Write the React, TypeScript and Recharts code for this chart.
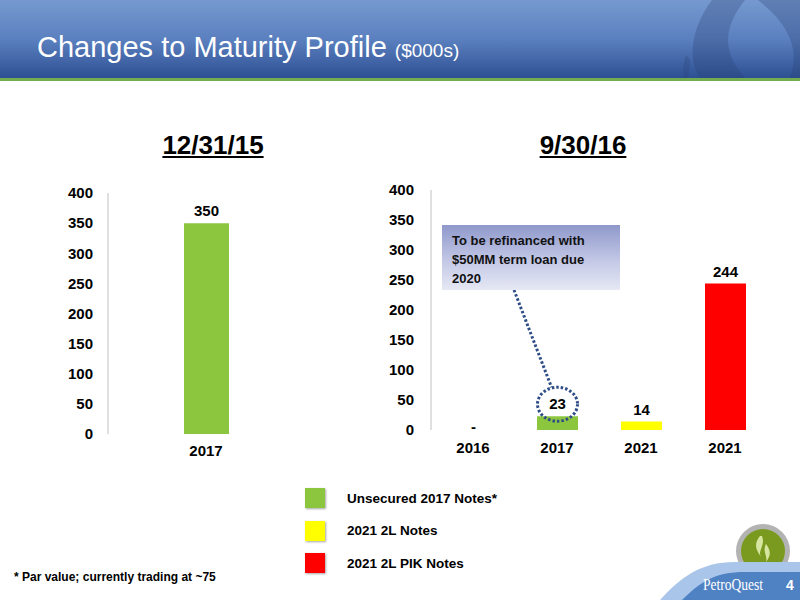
import React from 'react';
import { BarChart, Bar, XAxis, YAxis, Cell, LabelList } from 'recharts';

// 데이터
const leftCategories = ['2017'];
const leftValues = [350];
const leftColors = ['#8CC63E'];

const rightCategories = ['2016', '2017', '2021', '2021'];
const rightValues = [0, 23, 14, 244];
const rightColors = ['#8CC63E', '#8CC63E', '#FFFF00', '#FF0000'];

const yTicks = [0, 50, 100, 150, 200, 250, 300, 350, 400];

const legendLabels = ['Unsecured 2017 Notes*', '2021 2L Notes', '2021 2L PIK Notes'];
const legendColors = ['#8CC63E', '#FFFF00', '#FF0000'];

const calloutLines = ['To be refinanced with', '$50MM term loan due', '2020'];

const FONT = '"Liberation Sans", Arial, sans-serif';
const DOT_BLUE = '#2E4D87';

const leftData = leftCategories.map((name, i) => ({ name, value: leftValues[i] }));
const rightData = rightCategories.map((name, i) => ({ name, value: rightValues[i] }));

const tickStyle = { fontFamily: FONT, fontSize: 15, fontWeight: 700, fill: '#000' };

// 값 라벨 (0은 '-'), 강조할 값에는 점선 타원 + 말풍선 연결선
const makeLabel = (highlightValue: number | null, anchor?: { x: number; y: number }) =>
  (props: any) => {
    const { x, y, width, height, value } = props;
    const cx = x + width / 2;
    if (value === 0) {
      return (
        <text x={cx} y={y + height + 2} textAnchor="middle" style={tickStyle}>-</text>
      );
    }
    const base = y - 7;
    const cy = base - 5;
    return (
      <g>
        {value === highlightValue && anchor && (
          <g>
            <line x1={anchor.x} y1={anchor.y} x2={cx - 6} y2={cy - 17}
              stroke={DOT_BLUE} strokeWidth={3} strokeDasharray="2.5 2" />
            <ellipse cx={cx} cy={cy} rx={20} ry={17} fill="none"
              stroke={DOT_BLUE} strokeWidth={3} strokeDasharray="2.5 2" />
          </g>
        )}
        <text x={cx} y={base} textAnchor="middle" style={tickStyle}>{value}</text>
      </g>
    );
  };

const Header = () => (
  <div style={{ position: 'absolute', left: 0, top: 0, width: 800, height: 82 }}>
    <div style={{ position: 'absolute', left: 0, top: 0, width: 800, height: 78,
      background: 'linear-gradient(#7599cf, #5b80bf 50%, #2d5093)' }} />
    <svg width={800} height={78} style={{ position: 'absolute', left: 0, top: 0 }}>
      <path d="M712,0 C690,30 688,60 700,78 L745,78 C720,50 725,25 745,0 Z" fill="rgba(40,60,110,0.28)" />
      <path d="M758,0 C790,25 800,50 790,78 L800,78 L800,0 Z" fill="rgba(40,60,110,0.28)" />
      <path d="M688,78 C690,65 692,60 686,55 C684,62 682,70 684,78 Z" fill="rgba(40,60,110,0.25)" />
    </svg>
    <div style={{ position: 'absolute', left: 0, top: 78, width: 800, height: 3, background: '#73ad4f' }} />
    <div style={{ position: 'absolute', left: 37, top: 28, color: '#fff', fontFamily: FONT,
      fontSize: 29, whiteSpace: 'nowrap', lineHeight: '38px' }}>
      Changes to Maturity Profile <span style={{ fontSize: 19 }}>($000s)</span>
    </div>
  </div>
);

const Footer = () => (
  <svg width={160} height={80} style={{ position: 'absolute', left: 640, top: 520 }}>
    <circle cx={123} cy={31} r={27} fill="#b3b3b3" />
    <circle cx={123} cy={31} r={22} fill="#7a9a1f" />
    <path d="M120,16 C112,26 118,32 122,38 C116,32 126,26 122,16 Z M126,24 C122,32 128,36 126,42 C132,34 130,30 126,24 Z"
      fill="#d6e6a0" />
    <path d="M20,80 C40,58 60,42 95,42 L160,42 L160,80 Z" fill="#a9c6ea" />
    <path d="M42,80 C60,62 75,52 105,52 L160,52 L160,80 Z" fill="#4f82c3" />
    <text x={63} y={70} fill="#fff" textLength={60} lengthAdjust="spacingAndGlyphs"
      style={{ fontFamily: '"Liberation Serif", serif', fontSize: 16 }}>PetroQuest</text>
    <text x={146} y={70} fill="#fff" style={{ fontFamily: FONT, fontSize: 14, fontWeight: 700 }}>4</text>
  </svg>
);

export default function App() {
  return (
    <div style={{ position: 'absolute', left: 0, top: 0, width: 800, height: 600,
      background: '#fff', overflow: 'hidden', fontFamily: FONT }}>
      <Header />

      <div style={{ position: 'absolute', left: 113, top: 129, width: 200, textAlign: 'center',
        fontSize: 26, fontWeight: 700, textDecoration: 'underline', lineHeight: '32px' }}>12/31/15</div>
      <div style={{ position: 'absolute', left: 483, top: 129, width: 200, textAlign: 'center',
        fontSize: 26, fontWeight: 700, textDecoration: 'underline', lineHeight: '32px' }}>9/30/16</div>

      <div style={{ position: 'absolute', left: 0, top: 170 }}>
        <BarChart width={330} height={300} data={leftData}
          margin={{ top: 23, right: 26, bottom: 6, left: 48 }}>
          <XAxis dataKey="name" axisLine={false} tickLine={false} tick={tickStyle}
            tickMargin={5} height={30} />
          <YAxis domain={[0, 400]} ticks={yTicks} tick={tickStyle} tickLine={false}
            axisLine={{ stroke: '#c0c0c0' }} tickMargin={9} width={60} />
          <Bar dataKey="value" barSize={45} isAnimationActive={false}>
            {leftData.map((d, i) => <Cell key={`l-${i}`} fill={leftColors[i]} />)}
            <LabelList dataKey="value" content={makeLabel(null)} />
          </Bar>
        </BarChart>
      </div>

      <div style={{ position: 'absolute', left: 330, top: 170 }}>
        <BarChart width={470} height={300} data={rightData}
          margin={{ top: 20, right: 33, bottom: 10, left: 41 }}>
          <XAxis dataKey="name" axisLine={false} tickLine={false} tick={tickStyle}
            tickMargin={6} height={30} />
          <YAxis domain={[0, 400]} ticks={yTicks} tick={tickStyle} tickLine={false}
            axisLine={{ stroke: '#c0c0c0' }} tickMargin={11} width={60} />
          <Bar dataKey="value" barSize={41} isAnimationActive={false}
            minPointSize={(v: number) => (v === 0 ? 1 : 0)}>
            {rightData.map((d, i) => (
              <Cell key={`r-${i}`} fill={rightColors[i]} fillOpacity={d.value === 0 ? 0 : 1} />
            ))}
            <LabelList dataKey="value" content={makeLabel(rightValues[1], { x: 184, y: 120 })} />
          </Bar>
        </BarChart>
      </div>

      {/* 말풍선 */}
      <div style={{ position: 'absolute', left: 442, top: 225, width: 178, height: 65,
        background: 'linear-gradient(#8f98cb, #c3c8e6 55%, #e6e8f4)', boxSizing: 'border-box',
        padding: '6px 0 0 10px', fontSize: 13, fontWeight: 700, lineHeight: '19px', color: '#111' }}>
        {calloutLines.map((t, i) => <div key={i}>{t}</div>)}
      </div>

      {/* 범례 */}
      {legendLabels.map((label, i) => (
        <div key={label} style={{ position: 'absolute', left: 305, top: 488 + i * 32.5, height: 20,
          display: 'flex', alignItems: 'center' }}>
          <div style={{ width: 20, height: 20, background: legendColors[i],
            boxShadow: '1px 1px 2px rgba(0,0,0,0.35)' }} />
          <span style={{ marginLeft: 22, fontSize: 13.5, fontWeight: 700 }}>{label}</span>
        </div>
      ))}

      <div style={{ position: 'absolute', left: 14, top: 570, fontSize: 12, fontWeight: 700 }}>
        * Par value; currently trading at ~75
      </div>

      <Footer />
    </div>
  );
}
